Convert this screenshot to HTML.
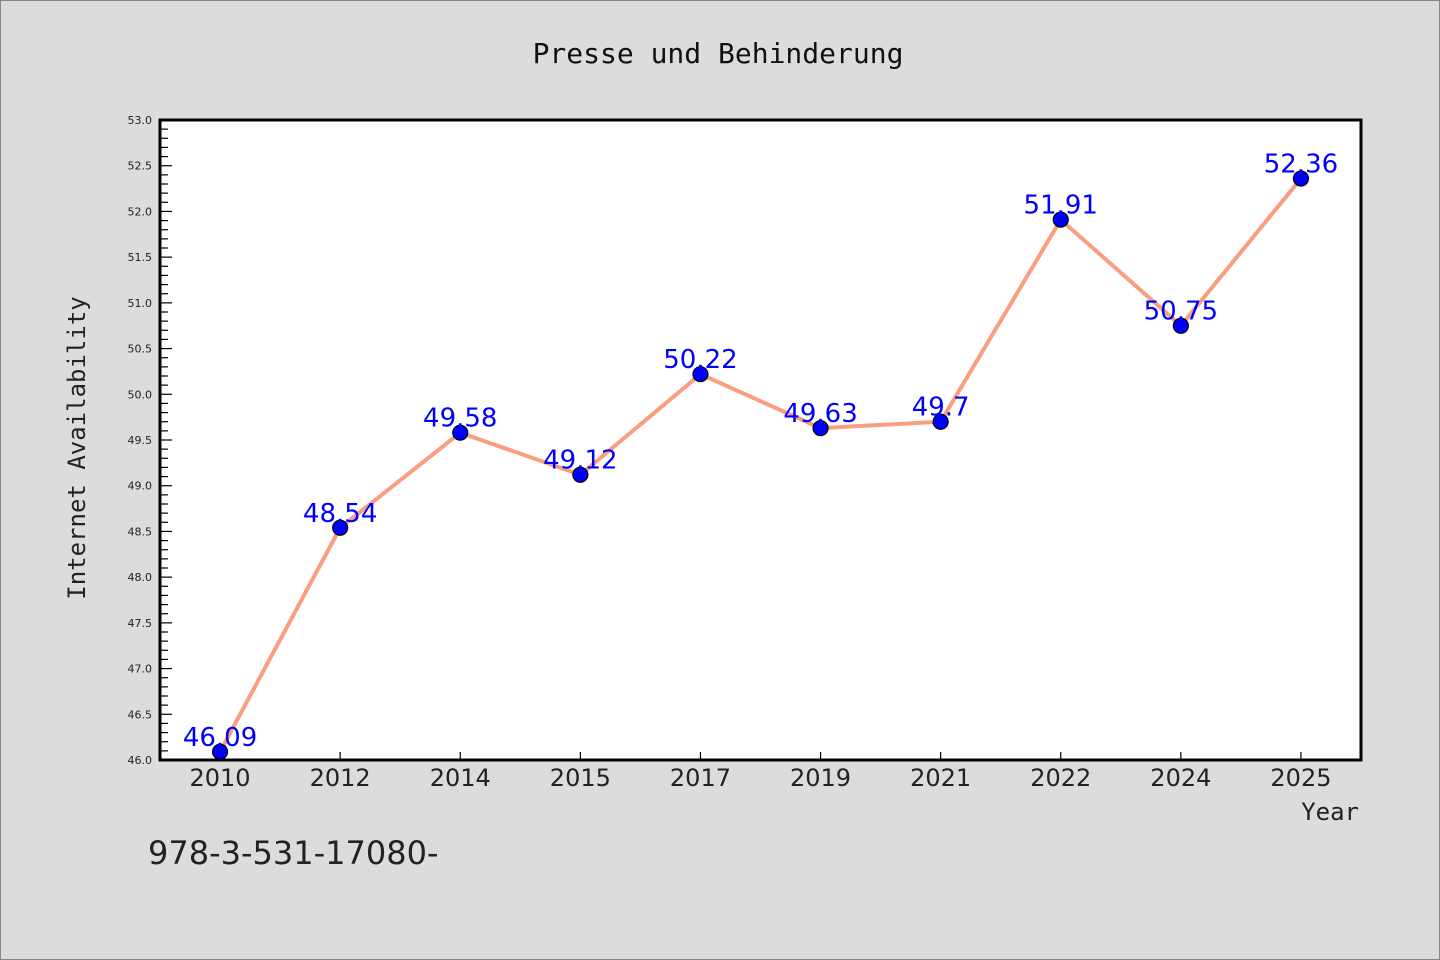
<!DOCTYPE html>
<html><head><meta charset="utf-8"><style>
body{margin:0;background:#dcdcdc;}
svg{display:block;font-family:"DejaVu Sans","Liberation Sans",sans-serif;}
</style></head><body>
<svg id="chart" width="1440" height="960">
<rect x="0.5" y="0.5" width="1439" height="959" fill="#dcdcdc" stroke="#888"/>
<text x="718" y="63" text-anchor="middle" font-size="28" font-family="DejaVu Sans Mono, monospace" fill="#111">Presse und Behinderung</text>
<rect x="160" y="120" width="1201" height="640" fill="#fff"/>
<g id="yaxis"></g>
<g id="xaxis"></g>
<g id="series"></g>
<rect x="160" y="120" width="1201" height="640" fill="none" stroke="#000" stroke-width="3"/>
<text x="85" y="448" transform="rotate(-90 85 448)" text-anchor="middle" font-size="24" font-family="DejaVu Sans Mono, monospace" fill="#222">Internet Availability</text>
<text x="1359" y="820" text-anchor="end" font-size="24" font-family="DejaVu Sans Mono, monospace" fill="#222">Year</text>
<text x="148" y="864" font-size="32" fill="#222">978-3-531-17080-</text>
</svg>
<script>
const categories=["2010","2012","2014","2015","2017","2019","2021","2022","2024","2025"];
const values=[46.09,48.54,49.58,49.12,50.22,49.63,49.7,51.91,50.75,52.36];
const valueLabels=["46.09","48.54","49.58","49.12","50.22","49.63","49.7","51.91","50.75","52.36"];
const yTicks=["46.0","46.5","47.0","47.5","48.0","48.5","49.0","49.5","50.0","50.5","51.0","51.5","52.0","52.5","53.0"];
const yMin=46,yMax=53,L=160,R=1361,T=120,B=760;
const ns="http://www.w3.org/2000/svg";
const y=v=>B-(v-yMin)/(yMax-yMin)*(B-T);
const step=(R-L)/categories.length;
const x=i=>L+step*(i+0.5);
function mk(tag,attrs,parent){const e=document.createElementNS(ns,tag);for(const k in attrs)e.setAttribute(k,attrs[k]);parent.appendChild(e);return e;}
const ya=document.getElementById('yaxis'),xa=document.getElementById('xaxis'),sg=document.getElementById('series');
for(let v=yMin;v<=yMax+1e-9;v+=0.1){const major=Math.abs(v*2-Math.round(v*2))<1e-6;
 const t=mk('line',{x1:L,x2:L+(major?12:8),y1:y(v),y2:y(v),stroke:'#000','stroke-width':1.2},ya);
 
 }
yTicks.forEach(s=>{const t=mk('text',{x:L-8,y:y(parseFloat(s))+4,'text-anchor':'end','font-size':11,fill:'#222'},ya);t.textContent=s;
 
 });
categories.forEach((c,i)=>{const t=mk('line',{x1:x(i),x2:x(i),y1:B,y2:B-8,stroke:'#000','stroke-width':1.2},xa);
 
 
 const l=mk('text',{x:x(i),y:B+26,'text-anchor':'middle','font-size':24,fill:'#222'},xa);l.textContent=c;
 
 });
const pl=mk('polyline',{points:values.map((v,i)=>x(i)+','+y(v)).join(' '),fill:'none',stroke:'#fa9e7f','stroke-width':4,'stroke-linejoin':'round'},sg);


values.forEach((v,i)=>{const c=mk('circle',{cx:x(i),cy:y(v),r:7.5,fill:'#0000ff',stroke:'#000','stroke-width':1.2},sg);
 
 });
values.forEach((v,i)=>{const t=mk('text',{x:x(i),y:y(v)-6,'text-anchor':'middle','font-size':26,fill:'#0000ff'},sg);t.textContent=valueLabels[i];
 
 });
</script>
</body></html>
